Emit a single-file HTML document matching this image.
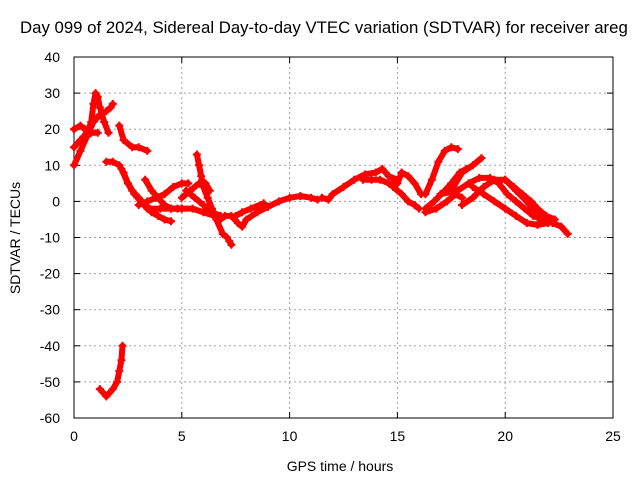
<!DOCTYPE html>
<html><head><meta charset="utf-8"><style>
body{margin:0;background:#fff;}
svg{display:block;font-family:"Liberation Sans",sans-serif;}
</style></head><body>
<svg id="chart" width="640" height="480">
<text x="20" y="33" font-size="16.8" fill="#000">Day 099 of 2024, Sidereal Day-to-day VTEC variation (SDTVAR) for receiver areg</text>
<g id="grid"></g>
<g id="axes"></g>
<g id="marks"></g>
<text x="340" y="471" font-size="14" text-anchor="middle">GPS time / hours</text>
<text transform="translate(20,238) rotate(-90)" font-size="14" text-anchor="middle">SDTVAR / TECUs</text>
</svg>
<script>
const xTicks=[0,5,10,15,20,25];
const yTicks=[40,30,20,10,0,-10,-20,-30,-40,-50,-60];
const tracks=[
[[0,10],[0.3,14],[0.6,18],[0.9,22],[1.2,24],[1.5,25],[1.7,26],[1.8,27]],
[[0,15],[0.3,17],[0.6,19],[0.8,22],[0.9,27],[1.0,30],[1.1,29],[1.2,26],[1.4,22],[1.6,19]],
[[0,20],[0.3,21],[0.5,20],[0.8,19],[1.1,19]],
[[1.5,11],[1.8,11],[2.1,10],[2.3,8],[2.5,5],[2.7,3],[3.0,1],[3.3,-1],[3.6,-3],[3.9,-4],[4.2,-5],[4.5,-5.5]],
[[2.1,21],[2.3,17],[2.7,15],[3.0,15],[3.4,14]],
[[2.2,9],[2.5,5],[2.8,2],[3.1,0],[3.4,-2],[3.7,-3]],
[[3.3,6],[3.6,3],[3.9,1],[4.2,-1],[4.5,-2],[4.8,-2],[5,-2]],
[[3.0,-1],[3.4,0],[3.8,1],[4.2,2],[4.6,4],[5.0,5],[5.3,5]],
[[3.5,-2],[4,-2],[4.5,-2],[5,-2],[5.5,-2],[6,-3],[6.5,-4]],
[[5.7,13],[5.8,10],[5.9,7],[6,4],[6.2,1],[6.4,-2],[6.6,-5],[6.9,-9],[7.1,-10]],
[[5.0,1],[5.4,3],[5.8,5],[6.1,5],[6.3,3]],
[[5.2,3],[5.6,1],[6.0,-1],[6.4,-3],[6.8,-4]],
[[7.2,-11],[7.3,-12]],
[[6.8,-5],[7,-4],[7.3,-4],[7.6,-6],[7.8,-7],[8,-5],[8.5,-3],[9,-1.5],[9.5,0],[10,1],[10.5,1.5],[11,1],[11.3,0.5]],
[[7.5,-4],[7.8,-3],[8.2,-2],[8.8,-0.5]],
[[11.5,1],[11.8,0.5],[12,2],[12.5,4],[13,6],[13.5,7.5],[14,8],[14.3,9],[14.6,7],[15,6]],
[[13.4,6],[13.8,6],[14.2,6],[14.6,5],[15,5],[15.2,8],[15.5,7],[15.8,5],[16.1,2]],
[[14.8,4],[15.2,2],[15.5,0],[15.8,-1],[16,-2]],
[[16.3,2],[16.6,6],[16.9,11],[17.2,14],[17.5,15],[17.8,14.5]],
[[16.3,-2],[16.7,0],[17.2,3],[17.5,5],[17.9,8],[18.2,9]],
[[16.3,-3],[16.8,-2],[17.3,0],[17.7,2],[18.0,1]],
[[17.5,3],[18,8],[18.5,10],[18.9,12]],
[[17,2],[17.8,3],[18.3,5],[18.8,6.5],[19.3,6.5],[19.7,5],[20.1,2],[20.5,0],[20.9,-2],[21.3,-4],[21.7,-5],[22.2,-6],[22.6,-7],[22.9,-9]],
[[18,-1],[18.5,1],[19,4],[19.5,6],[20,6],[20.4,4],[20.8,2],[21.2,0],[21.5,-2],[21.9,-4],[22.3,-5]],
[[18.5,4],[19,2],[19.5,0],[20,-2],[20.5,-4],[21,-6],[21.5,-6.5],[22,-6]],
[[20.0,6],[20.5,3],[21,0],[21.4,-3],[21.7,-5]],
[[1.2,-52],[1.5,-54],[1.8,-52],[2.0,-50],[2.1,-47],[2.2,-44],[2.25,-40]]
];
const L=74,R=613,T=57,B=418;
const sx=h=>L+(h-0)/25*(R-L);
const sy=v=>T+(40-v)/100*(B-T);
const NS="http://www.w3.org/2000/svg";
function mk(tag,attrs,parent){const e=document.createElementNS(NS,tag);for(const k in attrs)e.setAttribute(k,attrs[k]);parent.appendChild(e);return e;}
const grid=document.getElementById('grid'),axes=document.getElementById('axes'),marks=document.getElementById('marks');
xTicks.forEach(t=>{
  const x=sx(t);
  if(t>0&&t<25){const g=mk('line',{x1:x,x2:x,y1:T,y2:B,stroke:'#a0a0a0','stroke-dasharray':'2,3'},grid);
  
  }
  mk('line',{x1:x,x2:x,y1:B,y2:B-6,stroke:'#000'},axes);
  mk('line',{x1:x,x2:x,y1:T,y2:T+6,stroke:'#000'},axes);
  const lb=mk('text',{x:x,y:B+23,'font-size':14,'text-anchor':'middle'},axes);lb.textContent=t;
  
  
});
yTicks.forEach(t=>{
  const y=sy(t);
  if(t>-60&&t<40){const g=mk('line',{x1:L,x2:R,y1:y,y2:y,stroke:'#a0a0a0','stroke-dasharray':'2,3'},grid);
  
  }
  mk('line',{x1:L,x2:L+6,y1:y,y2:y,stroke:'#000'},axes);
  mk('line',{x1:R,x2:R-6,y1:y,y2:y,stroke:'#000'},axes);
  const lb=mk('text',{x:L-14,y:y+5,'font-size':14,'text-anchor':'end'},axes);lb.textContent=t;
  
  
});
const fr=mk('rect',{x:L,y:T,width:R-L,height:B-T,fill:'none',stroke:'#000'},axes);


tracks.forEach((tr,i)=>{
  const pl=mk('polyline',{points:tr.map(p=>sx(p[0])+','+sy(p[1])).join(' '),fill:'none',stroke:'#ff0000','stroke-width':6,'stroke-linejoin':'round','stroke-linecap':'round'},marks);
  
  
  tr.forEach(p=>{
    const x=sx(p[0]),y=sy(p[1]);
    const m=mk('path',{d:`M${x-4},${y}h8M${x},${y-4}v8`,stroke:'#ff0000','stroke-width':2},marks);
    
    
  });
});
</script>
</body></html>
